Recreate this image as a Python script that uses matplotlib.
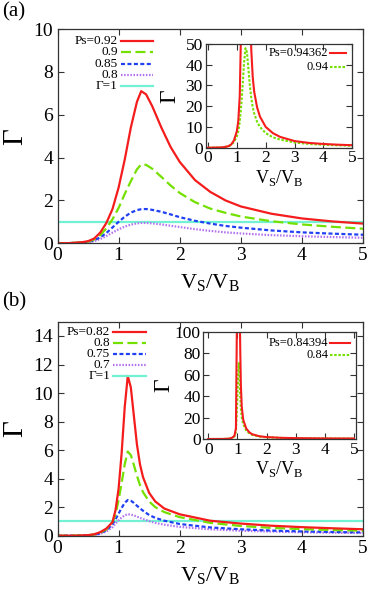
import numpy as np
import matplotlib.pyplot as plt

plt.rcParams['font.family'] = ['Liberation Serif', 'DejaVu Serif']
plt.rcParams['mathtext.fontset'] = 'custom'
plt.rcParams['mathtext.rm'] = 'Liberation Serif'

# ---- panel (a), main ----
xa = [0, 0.2, 0.4, 0.5, 0.6, 0.7, 0.8, 0.9, 1.0, 1.1, 1.2, 1.3, 1.37, 1.45, 1.55,
      1.7, 1.85, 2.0, 2.25, 2.5, 2.75, 3.0, 3.5, 4.0, 4.5, 5.0]
ga_092 = [0, 0.01, 0.05, 0.1, 0.22, 0.5, 0.95, 1.6, 2.6, 3.9, 5.4, 6.6, 7.1, 6.95, 6.4,
          5.4, 4.5, 3.8, 2.95, 2.4, 2.0, 1.72, 1.38, 1.16, 1.02, 0.92]
ga_090 = [0, 0.01, 0.04, 0.08, 0.18, 0.38, 0.7, 1.12, 1.65, 2.3, 2.9, 3.45, 3.68, 3.66, 3.48,
          3.1, 2.7, 2.35, 1.92, 1.62, 1.42, 1.25, 1.03, 0.88, 0.77, 0.68]
ga_085 = [0, 0.01, 0.03, 0.06, 0.14, 0.28, 0.48, 0.74, 1.0, 1.24, 1.43, 1.55, 1.59, 1.6, 1.56,
          1.47, 1.35, 1.22, 1.05, 0.92, 0.81, 0.73, 0.6, 0.51, 0.45, 0.4]
ga_080 = [0, 0.01, 0.02, 0.05, 0.1, 0.2, 0.34, 0.5, 0.65, 0.78, 0.87, 0.93, 0.95, 0.95, 0.93,
          0.88, 0.82, 0.76, 0.66, 0.58, 0.51, 0.46, 0.38, 0.33, 0.29, 0.26]

# ---- panel (a), inset ----
xia = [0, 0.5, 0.7, 0.8, 0.9, 1.0, 1.05, 1.1, 1.15, 1.2, 1.25, 1.3, 1.35, 1.4, 1.45,
       1.5, 1.55, 1.6, 1.7, 1.8, 2.0, 2.25, 2.5, 3.0, 3.5, 4.0, 4.5, 5.0]
gia_094362 = [0, 0.15, 0.7, 1.5, 3.5, 8, 13, 25, 60, 300, 900, 900, 900, 300, 75,
              47, 34, 27, 19.5, 15, 10, 7, 5.2, 3.2, 2.3, 1.8, 1.45, 1.2]
gia_094 = [0, 0.12, 0.6, 1.3, 2.7, 5.5, 8, 12.5, 20, 30, 41, 48, 46, 38, 30,
           24, 19.5, 16.5, 12.5, 10, 7, 5, 3.9, 2.5, 1.8, 1.4, 1.15, 0.95]

# ---- panel (b), main ----
xb = [0, 0.3, 0.5, 0.6, 0.7, 0.8, 0.9, 0.95, 1.0, 1.05, 1.1, 1.15, 1.2, 1.25, 1.3,
      1.35, 1.4, 1.5, 1.6, 1.75, 2.0, 2.5, 3.0, 3.5, 4.0, 4.5, 5.0]
gb_082 = [0, 0.005, 0.04, 0.1, 0.25, 0.5, 0.95, 1.8, 3.3, 5.8, 9.0, 11.2, 10.4, 8.4, 6.4,
          5.0, 4.1, 3.0, 2.4, 1.9, 1.5, 1.05, 0.85, 0.7, 0.6, 0.52, 0.45]
gb_080 = [0, 0.005, 0.03, 0.08, 0.22, 0.45, 0.95, 1.5, 2.5, 3.7, 5.0, 5.9, 5.65, 4.95, 4.2,
          3.55, 3.05, 2.4, 2.0, 1.65, 1.3, 0.9, 0.68, 0.55, 0.46, 0.4, 0.35]
gb_075 = [0, 0.004, 0.025, 0.06, 0.17, 0.38, 0.8, 1.15, 1.55, 1.95, 2.3, 2.5, 2.45, 2.3, 2.1,
          1.92, 1.75, 1.45, 1.25, 1.05, 0.82, 0.58, 0.45, 0.36, 0.3, 0.26, 0.23]
gb_070 = [0, 0.003, 0.02, 0.05, 0.13, 0.3, 0.6, 0.85, 1.08, 1.28, 1.43, 1.5, 1.48, 1.42, 1.34,
          1.25, 1.17, 1.02, 0.9, 0.77, 0.62, 0.45, 0.35, 0.29, 0.24, 0.21, 0.19]

# ---- panel (b), inset ----
xib = [0, 0.5, 0.7, 0.8, 0.9, 0.95, 0.98, 1.0, 1.02, 1.03, 1.05, 1.07, 1.08, 1.09,
       1.1, 1.12, 1.15, 1.2, 1.3, 1.4, 1.5, 1.75, 2.0, 2.5, 3.0, 4.0, 5.0]
gib_084394 = [0, 0.05, 0.3, 0.8, 3, 10, 100, 250, 900, 900, 900, 900, 400, 100,
              80, 50, 30, 18, 10, 6.5, 4.5, 2.6, 1.8, 1.1, 0.8, 0.55, 0.45]
gib_084 = [0, 0.04, 0.25, 0.7, 2.5, 7, 25, 38, 55, 62, 71, 62, 55, 45,
           40, 28, 20, 14, 8, 5.5, 4, 2.3, 1.6, 1.0, 0.7, 0.5, 0.4]

RED = '#f41c1c'
GREEN = '#74e000'
BLUE = '#2040f4'
PURPLE = '#b473ee'
CYAN = '#72f2d2'
FRAME = '#333333'

st_red = dict(color=RED, lw=1.6)
st_green = dict(color=GREEN, lw=1.6, dashes=(4.5, 2))
st_blue = dict(color=BLUE, lw=1.6, dashes=(1.8, 1.1))
st_purple = dict(color=PURPLE, lw=1.6, dashes=(0.7, 0.7))
st_cyan = dict(color=CYAN, lw=1.6)
st_green_in = dict(color=GREEN, lw=1.5, dashes=(1.2, 0.8))

W, H = 370, 589
fig = plt.figure(figsize=(W / 100, H / 100), dpi=100)


def frac(l, t, r, b):
    return [l / W, 1 - b / H, (r - l) / W, (b - t) / H]


def style(ax, fs, pad):
    for s in ax.spines.values():
        s.set_color(FRAME)
        s.set_linewidth(0.9)
    ax.tick_params(direction='in', length=4, width=0.8, color=FRAME,
                   top=True, right=True, labelsize=fs, pad=pad)


def key(ax, rows, xt, x0, x1, y0, dy, fs):
    for i, (lab, kw) in enumerate(rows):
        y = y0 - i * dy
        ax.text(xt, y, lab, transform=ax.transAxes, ha='right', va='center', fontsize=fs)
        ax.plot([x0, x1], [y, y], transform=ax.transAxes, clip_on=False, **kw)


xlab = r'V$_\mathrm{S}$/V$_\mathrm{B}$'

# panel (a)
ax = fig.add_axes(frac(57.5, 29, 363, 243.3))
ax.axhline(1, **st_cyan)
ax.plot(xa, ga_080, **st_purple)
ax.plot(xa, ga_085, **st_blue)
ax.plot(xa, ga_090, **st_green)
ax.plot(xa, ga_092, **st_red)
ax.set_xlim(0, 5)
ax.set_ylim(0, 10)
ax.set_xticks(range(6))
ax.set_yticks(range(0, 11, 2))
style(ax, 14, 3)
ax.set_xlabel(xlab, fontsize=16, labelpad=6)
ax.set_ylabel('Γ', fontsize=21)
ax.yaxis.set_label_coords(-0.095, 0.5)
key(ax, [('Ps=0.92', st_red), ('0.9', st_green), ('0.85', st_blue),
         ('0.8', st_purple), ('Γ=1', st_cyan)],
    0.197, 0.207, 0.311, 0.944, 0.0525, 9.5)

ins = fig.add_axes(frac(205.7, 44, 352.3, 147.7))
ins.plot(xia, gia_094, **st_green_in)
ins.plot(xia, gia_094362, color=RED, lw=1.5)
ins.set_xlim(-0.08, 5)
ins.set_ylim(0, 50)
ins.set_xticks(range(6))
ins.set_yticks(range(0, 51, 10))
style(ins, 12.5, 2)
ins.set_xlabel(xlab, fontsize=13, labelpad=1)
ins.set_ylabel('Γ', fontsize=17)
ins.yaxis.set_label_coords(-0.175, 0.5)
key(ins, [('Ps=0.94362', dict(color=RED, lw=1.5)), ('0.94', st_green_in)],
    0.836, 0.848, 0.96, 0.91, 0.13, 9)

# panel (b)
ax = fig.add_axes(frac(57.5, 321.7, 363, 535.7))
ax.axhline(1, **st_cyan)
ax.plot(xb, gb_070, **st_purple)
ax.plot(xb, gb_075, **st_blue)
ax.plot(xb, gb_080, **st_green)
ax.plot(xb, gb_082, **st_red)
ax.set_xlim(0, 5)
ax.set_ylim(0, 15)
ax.set_xticks(range(6))
ax.set_yticks(range(0, 15, 2))
style(ax, 14, 3)
ax.set_xlabel(xlab, fontsize=16, labelpad=6)
ax.set_ylabel('Γ', fontsize=21)
ax.yaxis.set_label_coords(-0.095, 0.5)
key(ax, [('Ps=0.82', st_red), ('0.8', st_green), ('0.75', st_blue),
         ('0.7', st_purple), ('Γ=1', st_cyan)],
    0.172, 0.182, 0.29, 0.953, 0.0515, 9.5)

ins = fig.add_axes(frac(203.3, 332, 355.7, 439))
ins.plot(xib, gib_084, **st_green_in)
ins.plot(xib, gib_084394, color=RED, lw=1.5)
ins.set_xlim(-0.17, 5.06)
ins.set_ylim(0, 100)
ins.set_xticks(range(6))
ins.set_yticks(range(0, 101, 20))
style(ins, 12.5, 2)
ins.set_xlabel(xlab, fontsize=13, labelpad=1)
ins.set_ylabel('Γ', fontsize=17)
ins.yaxis.set_label_coords(-0.19, 0.5)
key(ins, [('Ps=0.84394', dict(color=RED, lw=1.5)), ('0.84', st_green_in)],
    0.82, 0.831, 0.963, 0.894, 0.109, 9)

fig.text(2 / W, 1 - 2 / H, '(a)', fontsize=15, ha='left', va='top')
fig.text(2 / W, 1 - 292 / H, '(b)', fontsize=15, ha='left', va='top')

fig.savefig('out.png', dpi=100)
